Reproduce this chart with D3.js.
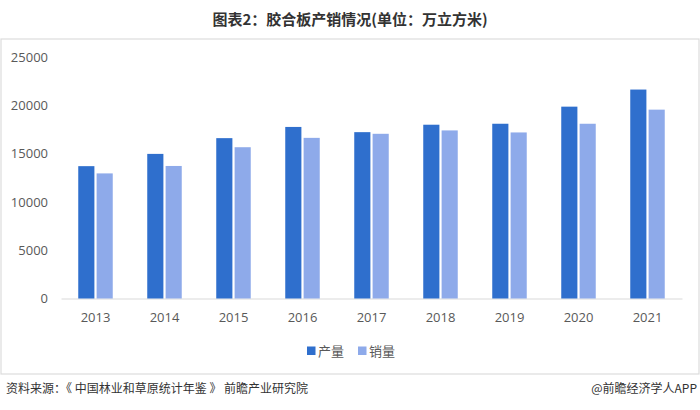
<!DOCTYPE html>
<html>
<head>
<meta charset="utf-8">
<script src="https://cdn.jsdelivr.net/npm/d3@7"></script>
<style>
  body { margin: 0; background: #fff; }
  svg { display: block; font-family: "Noto Sans CJK SC", "Noto Sans", sans-serif; }
</style>
</head>
<body>
<div id="grafica"></div>
<script>
// datos
const years = ["2013", "2014", "2015", "2016", "2017", "2018", "2019", "2020", "2021"]
const produccion = [13700, 14970, 16600, 17760, 17220, 17990, 18090, 19860, 21630]
const ventas = [12950, 13720, 15660, 16630, 17050, 17400, 17190, 18090, 19550]
const seriesNames = ["产量", "销量"]
const yTicks = [0, 5000, 10000, 15000, 20000, 25000]
const colores = ["#2f6fcd", "#8eaaea"]

const anchoTotal = 700, altoTotal = 410
const margin = {top: 57, right: 18, bottom: 112, left: 61}
const width = anchoTotal - margin.left - margin.right
const height = 298.5 - margin.top

const svg = d3.select("#grafica").append("svg")
    .attr("width", anchoTotal)
    .attr("height", altoTotal)

// marco
svg.append("rect")
    .attr("x", 1).attr("y", 39)
    .attr("width", 698).attr("height", 335)
    .attr("fill", "none")
    .attr("stroke", "#dcdcdc")
    .attr("stroke-width", 1.2)

// título
svg.append("text")
    .attr("x", 350).attr("y", 25)
    .attr("text-anchor", "middle")
    .attr("font-size", 15)
    .attr("font-weight", "bold")
    .attr("fill", "#333")
    .text("图表2：胶合板产销情况(单位：万立方米)")

const g = svg.append("g")
    .attr("transform", `translate(${margin.left}, ${margin.top})`)

const x = d3.scaleBand().domain(years).range([0, width]).paddingInner(0.5).paddingOuter(0.25)
const x1 = d3.scaleBand().domain(seriesNames).range([0, x.bandwidth()]).paddingInner(0.12)
const y = d3.scaleLinear().domain([0, 25000]).range([height, 0])

// eje y
const yAxis = g.append("g")
    .call(d3.axisLeft(y).tickValues(yTicks).tickFormat(d3.format("d")).tickSize(0).tickPadding(13))
yAxis.select(".domain").remove()
yAxis.selectAll("text")
    .attr("font-size", 13)
    .attr("fill", "#595959")
    .attr("font-family", "'Open Sans', 'Noto Sans', sans-serif")

// eje x
const xAxis = g.append("g")
    .attr("transform", `translate(0, ${height})`)
    .call(d3.axisBottom(x).tickSize(0).tickPadding(14))
xAxis.select(".domain").attr("stroke", "#d9d9d9").attr("stroke-width", 1.2)
xAxis.selectAll("text")
    .attr("font-size", 13)
    .attr("fill", "#595959")
    .attr("font-family", "'Open Sans', 'Noto Sans', sans-serif")

// barras
const datos = years.map((yr, i) => ({year: yr, values: [produccion[i], ventas[i]]}))
const grupos = g.selectAll(".grupo").data(datos).join("g")
    .attr("transform", d => `translate(${x(d.year)}, 0)`)
grupos.selectAll("rect")
    .data(d => d.values.map((v, j) => ({serie: seriesNames[j], value: v, c: colores[j]})))
    .join("rect")
    .attr("x", d => x1(d.serie))
    .attr("width", x1.bandwidth())
    .attr("y", d => y(d.value))
    .attr("height", d => height - y(d.value))
    .attr("fill", d => d.c)

// leyenda
const leyenda = svg.append("g").attr("transform", "translate(307, 351)")
seriesNames.forEach((n, i) => {
  const item = leyenda.append("g").attr("transform", `translate(${i * 51}, 0)`)
  item.append("rect").attr("x", 0).attr("y", -4.5).attr("width", 8.5).attr("height", 8.5).attr("fill", colores[i])
  item.append("text").attr("x", 11).attr("y", 0).attr("dy", "0.35em")
      .attr("font-size", 13).attr("fill", "#595959").text(n)
})

// pie
svg.append("text")
    .attr("x", 6).attr("y", 393)
    .attr("font-size", 12).attr("fill", "#333")
    .text("资料来源：《 中国林业和草原统计年鉴 》 前瞻产业研究院")
svg.append("text")
    .attr("x", 697).attr("y", 393)
    .attr("text-anchor", "end")
    .attr("font-size", 12).attr("fill", "#333")
    .text("@前瞻经济学人APP")
</script>
</body>
</html>
